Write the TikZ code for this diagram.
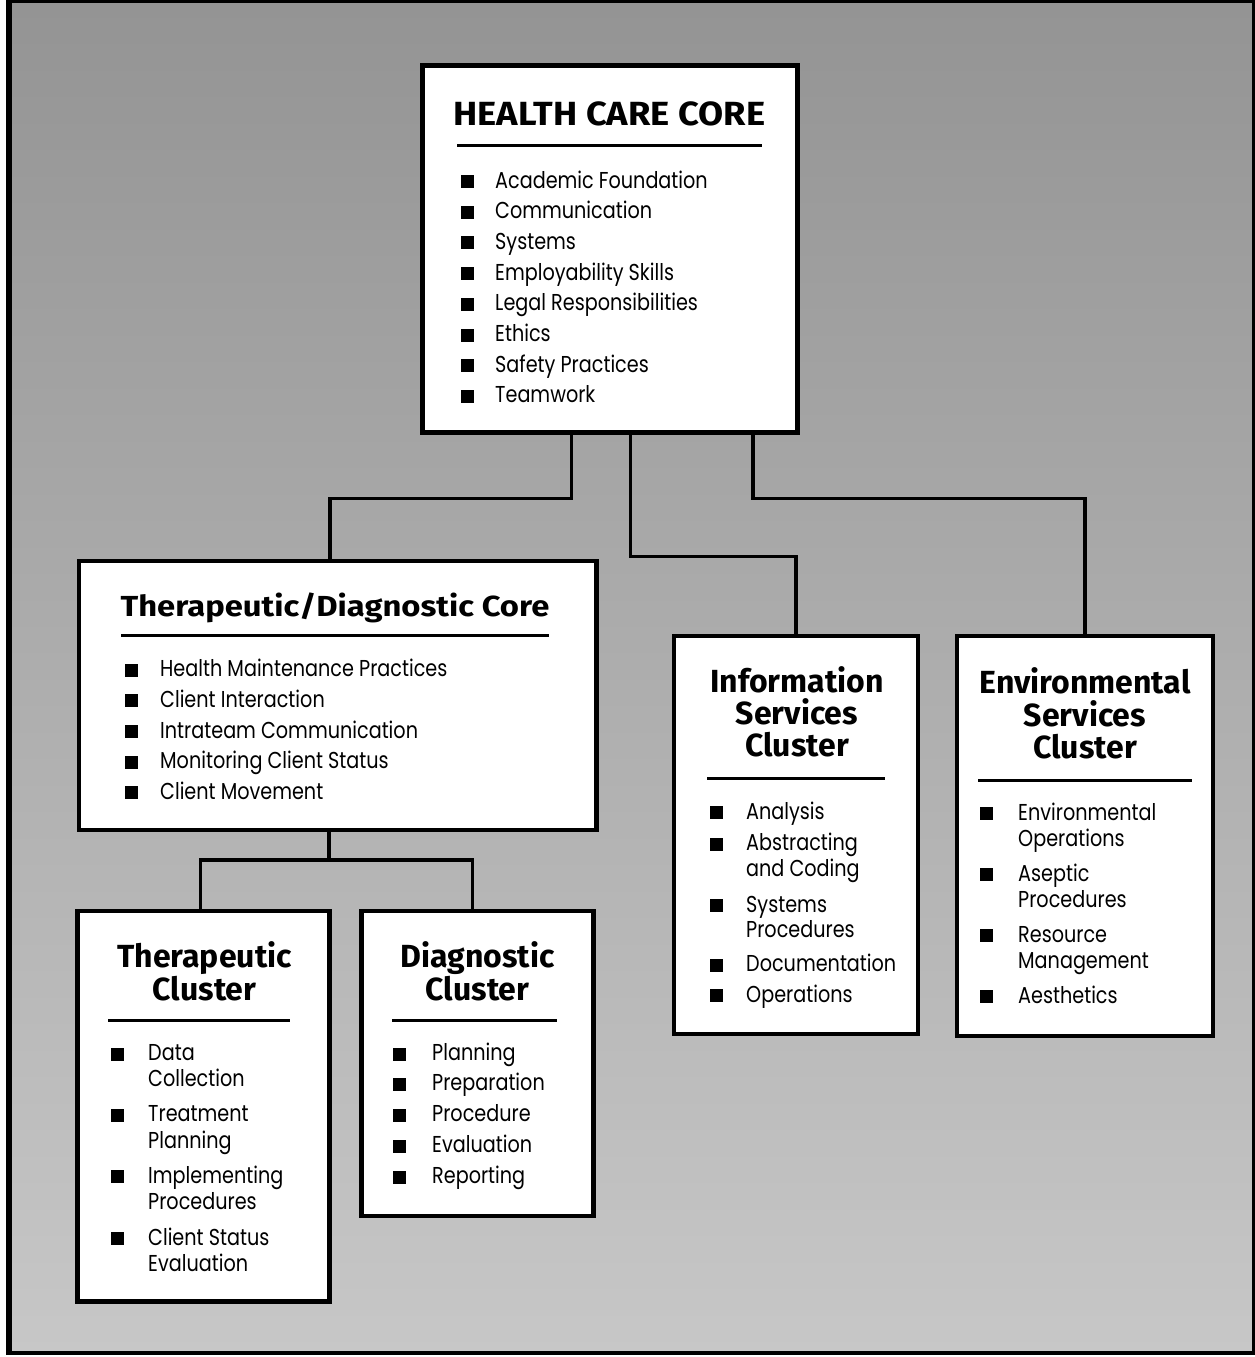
\documentclass[tikz,border=0pt]{standalone}
\usepackage{fontspec}
\setmainfont{Poppins}[FakeStretch=0.835]
\newfontfamily\headfont{Fira Sans}
\newfontfamily\headwide{Fira Sans}[FakeStretch=1.085]
\newfontfamily\headwider{Fira Sans}[FakeStretch=1.13]
\begin{document}
\begin{tikzpicture}[x=1pt,y=-1pt,
  box/.style={draw=black, line width=4.5pt, fill=white, anchor=north west,
    inner sep=0pt, outer sep=0pt},
  link/.style={draw=black, line width=3.5pt},
  rule/.style={draw=black, line width=3pt},
  itm/.style={anchor=base west, inner sep=0pt, font=\fontsize{23}{28}\selectfont},
  ttl/.style={anchor=base, inner sep=0pt, font=\headfont\bfseries\fontsize{32}{36}\selectfont},
  bigttl/.style={ttl, font=\headwide\bfseries\fontsize{33.5}{36}\selectfont},
  midttl/.style={ttl, font=\headwider\bfseries\fontsize{29}{34}\selectfont},
]
\newcommand\blt[2]{\fill[black] (#1,#2) rectangle ++(13,-13);}
\useasboundingbox (0,0) rectangle (1255,1357);
\fill[white] (0,0) rectangle (1255,1357);
% textured backdrop inside the frame
\shade[top color=black!42, middle color=black!40, bottom color=black!22]
  (9,1.5) rectangle (1253,1352);
% frame
\draw[black, line width=6pt] (9,0) -- (9,1355);
\draw[black, line width=3pt] (6,1.5) -- (1255,1.5);
\draw[black, line width=3pt] (1253,0) -- (1253,1355);
\draw[black, line width=4pt] (6,1352.5) -- (1255,1352.5);

% boxes
\node[box, minimum width=375pt, minimum height=367pt] (hcc) at (422.5,65.5) {};
\node[box, minimum width=517.5pt, minimum height=269pt] (td) at (79,561) {};
\node[box, minimum width=252pt, minimum height=390.5pt] (tc) at (77.5,911) {};
\node[box, minimum width=232pt, minimum height=305pt] (dc) at (361.5,911) {};
\node[box, minimum width=244pt, minimum height=398pt] (isc) at (674,636) {};
\node[box, minimum width=256pt, minimum height=400pt] (esc) at (957,636) {};

% connectors
\draw[link] ([xshift=-38.5pt]hcc.south) -- ++(0,66) -| ([xshift=-7.75pt]td.north);
\draw[link] ([xshift=20.5pt]hcc.south) -- ++(0,124) -| (isc.north);
\draw[link] ([xshift=143pt]hcc.south) -- ++(0,66) -| (esc.north);
\draw[link] ([xshift=-8.75pt]td.south) -- ++(0,30) -| ([xshift=-3pt]tc.north);
\draw[link] ([xshift=-8.75pt]td.south) -- ++(0,30) -| ([xshift=-5pt]dc.north);

% Health Care Core
\node[bigttl] (hcc-t) at (609.5,125) {HEALTH CARE CORE};
\draw[rule] (457,145) -- (762,145);
\foreach \yy/\tx [count=\i] in {188/Academic Foundation, 218.7/Communication,
  249.4/Systems, 280.1/Employability Skills, 310.8/Legal Responsibilities,
  341.5/Ethics, 372.2/Safety Practices, 402.9/Teamwork}
  {\node[itm] (hcc-\i) at (495,\yy) {\tx}; \blt{460.5}{\yy}}

% Therapeutic/Diagnostic Core
\node[midttl] (td-t) at (335,616) {Therapeutic/Diagnostic Core};
\draw[rule] (121,635) -- (549,635);
\foreach \yy/\tx [count=\i] in {676.5/Health Maintenance Practices,
  707/Client Interaction, 738/Intrateam Communication,
  768.5/Monitoring Client Status, 799/Client Movement}
  {\node[itm] (td-\i) at (160,\yy) {\tx}; \blt{124.5}{\yy}}

% Therapeutic Cluster
\node[ttl] (tc-t1) at (204.5,967) {Therapeutic};
\node[ttl] (tc-t2) at (204.5,1000) {Cluster};
\draw[rule] (108,1020) -- (290,1020);
\foreach \yy/\tx [count=\i] in {1060.5/Data, 1086.5/Collection, 1121.5/Treatment,
  1148/Planning, 1183/Implementing, 1209.5/Procedures, 1245/Client Status,
  1271.5/Evaluation}
  {\node[itm] (tc-\i) at (148,\yy) {\tx};}
\foreach \yy in {1060.5,1121.5,1183,1245} {\blt{110.5}{\yy}}

% Diagnostic Cluster
\node[ttl] (dc-t1) at (477.5,967) {Diagnostic};
\node[ttl] (dc-t2) at (477.5,1000) {Cluster};
\draw[rule] (392,1020) -- (557,1020);
\foreach \yy/\tx [count=\i] in {1060.5/Planning, 1090.5/Preparation,
  1121.5/Procedure, 1152.5/Evaluation, 1183.5/Reporting}
  {\node[itm] (dc-\i) at (432,\yy) {\tx}; \blt{392.5}{\yy}}

% Information Services Cluster
\node[ttl] (isc-t1) at (797,692) {Information};
\node[ttl] (isc-t2) at (797,724) {Services};
\node[ttl] (isc-t3) at (797,756.5) {Cluster};
\draw[rule] (707,778) -- (885,778);
\foreach \yy/\tx [count=\i] in {819/Analysis, 850.5/Abstracting, 876/and Coding,
  912/Systems, 937/Procedures, 971.5/Documentation, 1002/Operations}
  {\node[itm] (isc-\i) at (746,\yy) {\tx};}
\foreach \yy in {819,850.5,912,971.5,1002} {\blt{709.5}{\yy}}

% Environmental Services Cluster
\node[ttl] (esc-t1) at (1085,693) {Environmental};
\node[ttl] (esc-t2) at (1085,726) {Services};
\node[ttl] (esc-t3) at (1085,758) {Cluster};
\draw[rule] (978,780) -- (1192,780);
\foreach \yy/\tx [count=\i] in {820/Environmental, 846/Operations, 881/Aseptic,
  907/Procedures, 942/Resource, 968/Management, 1003/Aesthetics}
  {\node[itm] (esc-\i) at (1018,\yy) {\tx};}
\foreach \yy in {820,881,942,1003} {\blt{979.5}{\yy}}
\end{tikzpicture}
\end{document}
